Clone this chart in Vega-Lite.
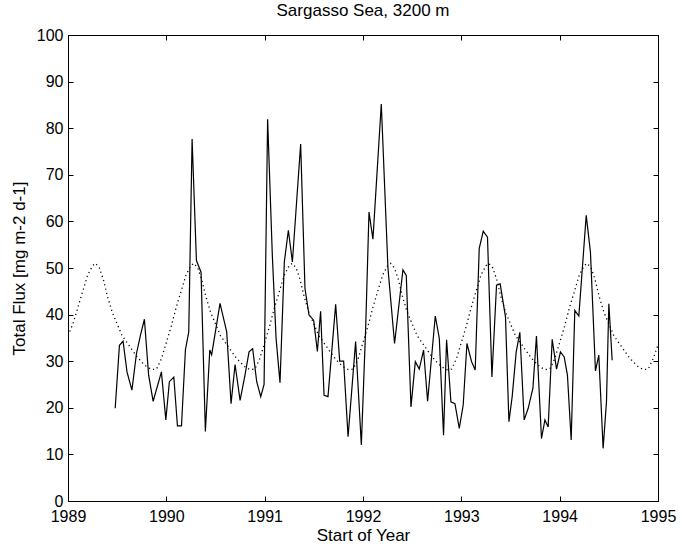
{
  "$schema": "https://vega.github.io/schema/vega-lite/v6.json",
  "width": 590,
  "height": 466,
  "autosize": "none",
  "padding": {"left": 68, "top": 35, "right": 24, "bottom": 49},
  "background": "white",
  "title": {"text": "Sargasso Sea, 3200 m", "font": "Liberation Sans", "fontSize": 17, "fontWeight": "normal", "color": "black", "offset": 7},
  "config": {
    "view": {"stroke": "black", "strokeWidth": 1},
    "axis": {
      "grid": false,
      "domainColor": "black",
      "tickColor": "black",
      "labelColor": "black",
      "titleColor": "black",
      "labelFont": "Liberation Sans",
      "titleFont": "Liberation Sans",
      "labelFontSize": 16,
      "titleFontSize": 17,
      "titleFontWeight": "normal",
      "tickSize": -5
    }
  },
  "datasets": {
    "flux": [
      {"year": 1989.48, "flux": 19.9}, {"year": 1989.523, "flux": 33.4}, {"year": 1989.56, "flux": 34.3}, {"year": 1989.60, "flux": 27.7},
      {"year": 1989.65, "flux": 23.8}, {"year": 1989.696, "flux": 31.6}, {"year": 1989.737, "flux": 35.6}, {"year": 1989.777, "flux": 39.0},
      {"year": 1989.82, "flux": 27.0}, {"year": 1989.866, "flux": 21.4}, {"year": 1989.95, "flux": 27.7}, {"year": 1989.995, "flux": 17.4},
      {"year": 1990.031, "flux": 25.6}, {"year": 1990.076, "flux": 26.6}, {"year": 1990.113, "flux": 16.1}, {"year": 1990.154, "flux": 16.1},
      {"year": 1990.194, "flux": 32.4}, {"year": 1990.228, "flux": 36.3}, {"year": 1990.262, "flux": 77.7}, {"year": 1990.306, "flux": 51.6},
      {"year": 1990.353, "flux": 49.1}, {"year": 1990.397, "flux": 14.9}, {"year": 1990.442, "flux": 32.4}, {"year": 1990.461, "flux": 31.4},
      {"year": 1990.546, "flux": 42.4}, {"year": 1990.614, "flux": 36.3}, {"year": 1990.658, "flux": 20.9}, {"year": 1990.699, "flux": 29.3},
      {"year": 1990.75, "flux": 21.6}, {"year": 1990.80, "flux": 27.0}, {"year": 1990.841, "flux": 32.0}, {"year": 1990.878, "flux": 32.7},
      {"year": 1990.919, "flux": 25.6}, {"year": 1990.96, "flux": 22.4}, {"year": 1990.994, "flux": 25.0}, {"year": 1991.03, "flux": 81.9},
      {"year": 1991.078, "flux": 52.7}, {"year": 1991.116, "flux": 34.9}, {"year": 1991.156, "flux": 25.4}, {"year": 1991.20, "flux": 51.3},
      {"year": 1991.241, "flux": 58.1}, {"year": 1991.282, "flux": 51.3}, {"year": 1991.366, "flux": 76.6}, {"year": 1991.41, "flux": 45.6},
      {"year": 1991.451, "flux": 39.9}, {"year": 1991.498, "flux": 38.8}, {"year": 1991.536, "flux": 32.1}, {"year": 1991.569, "flux": 40.7},
      {"year": 1991.604, "flux": 22.7}, {"year": 1991.644, "flux": 22.4}, {"year": 1991.722, "flux": 42.2}, {"year": 1991.763, "flux": 30.0},
      {"year": 1991.803, "flux": 30.0}, {"year": 1991.848, "flux": 13.8}, {"year": 1991.925, "flux": 34.2}, {"year": 1991.983, "flux": 12.0},
      {"year": 1992.027, "flux": 37.0}, {"year": 1992.061, "flux": 62.0}, {"year": 1992.101, "flux": 56.2}, {"year": 1992.186, "flux": 85.2},
      {"year": 1992.254, "flux": 49.9}, {"year": 1992.321, "flux": 33.8}, {"year": 1992.406, "flux": 49.6}, {"year": 1992.44, "flux": 48.4},
      {"year": 1992.488, "flux": 20.2}, {"year": 1992.532, "flux": 29.9}, {"year": 1992.572, "flux": 28.3}, {"year": 1992.616, "flux": 32.4},
      {"year": 1992.657, "flux": 21.4}, {"year": 1992.735, "flux": 39.7}, {"year": 1992.776, "flux": 34.9}, {"year": 1992.819, "flux": 14.1},
      {"year": 1992.85, "flux": 34.6}, {"year": 1992.894, "flux": 21.3}, {"year": 1992.935, "flux": 20.9}, {"year": 1992.979, "flux": 15.6},
      {"year": 1993.019, "flux": 20.6}, {"year": 1993.057, "flux": 33.8}, {"year": 1993.104, "flux": 29.9}, {"year": 1993.141, "flux": 28.1},
      {"year": 1993.182, "flux": 54.2}, {"year": 1993.223, "flux": 57.9}, {"year": 1993.266, "flux": 56.6}, {"year": 1993.311, "flux": 26.6},
      {"year": 1993.358, "flux": 46.3}, {"year": 1993.395, "flux": 46.6}, {"year": 1993.449, "flux": 39.5}, {"year": 1993.484, "flux": 17.0},
      {"year": 1993.517, "flux": 22.4}, {"year": 1993.558, "flux": 32.0}, {"year": 1993.595, "flux": 36.2}, {"year": 1993.639, "flux": 17.4},
      {"year": 1993.68, "flux": 19.9}, {"year": 1993.728, "flux": 24.2}, {"year": 1993.764, "flux": 35.4}, {"year": 1993.815, "flux": 13.4},
      {"year": 1993.85, "flux": 17.4}, {"year": 1993.883, "flux": 15.9}, {"year": 1993.924, "flux": 34.7}, {"year": 1993.968, "flux": 28.3},
      {"year": 1994.008, "flux": 32.0}, {"year": 1994.046, "flux": 30.9}, {"year": 1994.079, "flux": 27.0}, {"year": 1994.117, "flux": 13.1},
      {"year": 1994.154, "flux": 40.9}, {"year": 1994.195, "flux": 39.7}, {"year": 1994.27, "flux": 61.3}, {"year": 1994.313, "flux": 53.4},
      {"year": 1994.364, "flux": 27.9}, {"year": 1994.398, "flux": 31.3}, {"year": 1994.442, "flux": 11.3}, {"year": 1994.476, "flux": 21.3},
      {"year": 1994.5, "flux": 42.3}, {"year": 1994.534, "flux": 30.2}
    ],
    "model": [
      {"year": 1989.0, "flux": 35.5}, {"year": 1989.05, "flux": 38.0}, {"year": 1989.1, "flux": 41.5}, {"year": 1989.15, "flux": 45.0}, {"year": 1989.2, "flux": 48.5}, {"year": 1989.25, "flux": 50.5}, {"year": 1989.28, "flux": 51.0}, {"year": 1989.32, "flux": 50.0}, {"year": 1989.36, "flux": 47.5}, {"year": 1989.4, "flux": 44.0}, {"year": 1989.45, "flux": 40.5}, {"year": 1989.5, "flux": 38.0}, {"year": 1989.55, "flux": 35.5}, {"year": 1989.6, "flux": 34.0}, {"year": 1989.65, "flux": 32.5}, {"year": 1989.7, "flux": 31.0}, {"year": 1989.75, "flux": 29.8}, {"year": 1989.8, "flux": 28.8}, {"year": 1989.85, "flux": 28.2}, {"year": 1989.9, "flux": 28.3}, {"year": 1989.95, "flux": 30.5},
      {"year": 1990.0, "flux": 34.0}, {"year": 1990.05, "flux": 37.5}, {"year": 1990.1, "flux": 41.5}, {"year": 1990.15, "flux": 45.0}, {"year": 1990.2, "flux": 48.5}, {"year": 1990.25, "flux": 50.5}, {"year": 1990.28, "flux": 51.0}, {"year": 1990.32, "flux": 50.0}, {"year": 1990.36, "flux": 47.5}, {"year": 1990.4, "flux": 44.0}, {"year": 1990.45, "flux": 40.5}, {"year": 1990.5, "flux": 38.0}, {"year": 1990.55, "flux": 35.5}, {"year": 1990.6, "flux": 34.0}, {"year": 1990.65, "flux": 32.5}, {"year": 1990.7, "flux": 31.0}, {"year": 1990.75, "flux": 29.8}, {"year": 1990.8, "flux": 28.8}, {"year": 1990.85, "flux": 28.2}, {"year": 1990.9, "flux": 28.3}, {"year": 1990.95, "flux": 30.5},
      {"year": 1991.0, "flux": 34.0}, {"year": 1991.05, "flux": 37.5}, {"year": 1991.1, "flux": 41.5}, {"year": 1991.15, "flux": 45.0}, {"year": 1991.2, "flux": 48.5}, {"year": 1991.25, "flux": 50.5}, {"year": 1991.28, "flux": 51.0}, {"year": 1991.32, "flux": 50.0}, {"year": 1991.36, "flux": 47.5}, {"year": 1991.4, "flux": 44.0}, {"year": 1991.45, "flux": 40.5}, {"year": 1991.5, "flux": 38.0}, {"year": 1991.55, "flux": 35.5}, {"year": 1991.6, "flux": 34.0}, {"year": 1991.65, "flux": 32.5}, {"year": 1991.7, "flux": 31.0}, {"year": 1991.75, "flux": 29.8}, {"year": 1991.8, "flux": 28.8}, {"year": 1991.85, "flux": 28.2}, {"year": 1991.9, "flux": 28.3}, {"year": 1991.95, "flux": 30.5},
      {"year": 1992.0, "flux": 34.0}, {"year": 1992.05, "flux": 37.5}, {"year": 1992.1, "flux": 41.5}, {"year": 1992.15, "flux": 45.0}, {"year": 1992.2, "flux": 48.5}, {"year": 1992.25, "flux": 50.5}, {"year": 1992.28, "flux": 51.0}, {"year": 1992.32, "flux": 50.0}, {"year": 1992.36, "flux": 47.5}, {"year": 1992.4, "flux": 44.0}, {"year": 1992.45, "flux": 40.5}, {"year": 1992.5, "flux": 38.0}, {"year": 1992.55, "flux": 35.5}, {"year": 1992.6, "flux": 34.0}, {"year": 1992.65, "flux": 32.5}, {"year": 1992.7, "flux": 31.0}, {"year": 1992.75, "flux": 29.8}, {"year": 1992.8, "flux": 28.8}, {"year": 1992.85, "flux": 28.2}, {"year": 1992.9, "flux": 28.3}, {"year": 1992.95, "flux": 30.5},
      {"year": 1993.0, "flux": 34.0}, {"year": 1993.05, "flux": 37.5}, {"year": 1993.1, "flux": 41.5}, {"year": 1993.15, "flux": 45.0}, {"year": 1993.2, "flux": 48.5}, {"year": 1993.25, "flux": 50.5}, {"year": 1993.28, "flux": 51.0}, {"year": 1993.32, "flux": 50.0}, {"year": 1993.36, "flux": 47.5}, {"year": 1993.4, "flux": 44.0}, {"year": 1993.45, "flux": 40.5}, {"year": 1993.5, "flux": 38.0}, {"year": 1993.55, "flux": 35.5}, {"year": 1993.6, "flux": 34.0}, {"year": 1993.65, "flux": 32.5}, {"year": 1993.7, "flux": 31.0}, {"year": 1993.75, "flux": 29.8}, {"year": 1993.8, "flux": 28.8}, {"year": 1993.85, "flux": 28.2}, {"year": 1993.9, "flux": 28.3}, {"year": 1993.95, "flux": 30.5},
      {"year": 1994.0, "flux": 34.0}, {"year": 1994.05, "flux": 37.5}, {"year": 1994.1, "flux": 41.5}, {"year": 1994.15, "flux": 45.0}, {"year": 1994.2, "flux": 48.5}, {"year": 1994.25, "flux": 50.5}, {"year": 1994.28, "flux": 51.0}, {"year": 1994.32, "flux": 50.0}, {"year": 1994.36, "flux": 47.5}, {"year": 1994.4, "flux": 44.0}, {"year": 1994.45, "flux": 40.5}, {"year": 1994.5, "flux": 38.0}, {"year": 1994.55, "flux": 35.5}, {"year": 1994.6, "flux": 34.0}, {"year": 1994.65, "flux": 32.5}, {"year": 1994.7, "flux": 31.0}, {"year": 1994.75, "flux": 29.8}, {"year": 1994.8, "flux": 28.8}, {"year": 1994.85, "flux": 28.2}, {"year": 1994.9, "flux": 28.3}, {"year": 1994.95, "flux": 30.5},
      {"year": 1995.0, "flux": 33.5}
    ]
  },
  "layer": [
    {
      "data": {"name": "model"},
      "mark": {"type": "line", "color": "black", "strokeWidth": 1.3, "strokeDash": [1.2, 3.2], "clip": true},
      "encoding": {
        "x": {"field": "year", "type": "quantitative", "scale": {"domain": [1989, 1995], "nice": false, "zero": false},
              "axis": {"values": [1989, 1990, 1991, 1992, 1993, 1994, 1995], "format": "d", "title": "Start of Year", "labelPadding": 12, "titlePadding": 3, "labelFlush": false, "labelOverlap": false}},
        "y": {"field": "flux", "type": "quantitative", "scale": {"domain": [0, 100], "nice": false, "zero": true},
              "axis": {"values": [0, 10, 20, 30, 40, 50, 60, 70, 80, 90, 100], "title": "Total Flux [mg m-2 d-1]", "labelPadding": 10, "titlePadding": 8, "labelFlush": false, "labelOverlap": false}}
      }
    },
    {
      "data": {"name": "flux"},
      "mark": {"type": "line", "color": "black", "strokeWidth": 1.2, "clip": true},
      "encoding": {
        "x": {"field": "year", "type": "quantitative",
              "axis": {"orient": "top", "values": [1989, 1990, 1991, 1992, 1993, 1994, 1995], "labels": false, "title": null}},
        "y": {"field": "flux", "type": "quantitative",
              "axis": {"orient": "right", "values": [0, 10, 20, 30, 40, 50, 60, 70, 80, 90, 100], "labels": false, "title": null}}
      }
    }
  ],
  "resolve": {"axis": {"x": "independent", "y": "independent"}}
}
